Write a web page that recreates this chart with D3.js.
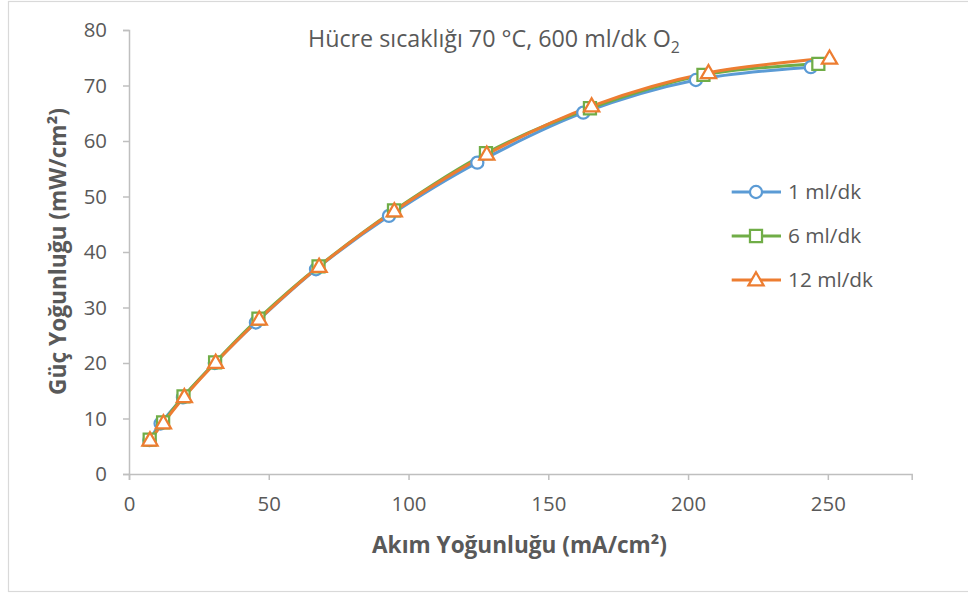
<!DOCTYPE html>
<html><head><meta charset="utf-8">
<script src="https://cdn.jsdelivr.net/npm/d3@7"></script>
<style>body{margin:0;background:#fff}svg{display:block}text{font-family:"Open Sans",sans-serif}</style>
</head><body>
<svg id="c" width="968" height="594"></svg>
<script>
const seriesNames = ["1 ml/dk", "6 ml/dk", "12 ml/dk"];
const x1 = [7.3, 11.3, 19.3, 30.7, 45.4, 66.9, 93.0, 124.6, 162.5, 202.8, 243.9];
const y1 = [6.1, 9.1, 13.8, 20.0, 27.3, 36.9, 46.5, 56.1, 65.1, 71.0, 73.3];
const x6 = [7.4, 12.2, 19.5, 30.8, 46.3, 67.8, 94.8, 127.7, 164.9, 205.5, 246.6];
const y6 = [6.2, 9.3, 14.0, 20.1, 28.0, 37.4, 47.5, 57.8, 65.9, 71.9, 73.9];
const x12 = [7.5, 12.3, 19.8, 31.0, 46.6, 68.0, 94.9, 128.0, 165.5, 207.3, 250.6];
const y12 = [6.1, 9.2, 13.9, 20.1, 27.9, 37.4, 47.4, 57.6, 66.3, 72.3, 74.9];
const xTicks = [0, 50, 100, 150, 200, 250];
const yTicks = [0, 10, 20, 30, 40, 50, 60, 70, 80];
const titleText = "Hücre sıcaklığı 70 °C, 600 ml/dk O";
const xTitle = "Akım Yoğunluğu (mA/cm²)";
const yTitle = "Güç Yoğunluğu (mW/cm²)";

const colors = ["#5B9BD5", "#70AD47", "#ED7D31"];
const shapes = [d3.symbolCircle, d3.symbolSquare, d3.symbolTriangle];
const data = [[x1, y1], [x6, y6], [x12, y12]].map((s, i) => ({
  name: seriesNames[i], pts: s[0].map((v, j) => [v, s[1][j]])
}));

const svg = d3.select("#c");
svg.append("rect").attr("x", 8.5).attr("y", 1.5).attr("width", 980).attr("height", 590)
  .attr("fill", "#fff").attr("stroke", "#d9d9d9").attr("stroke-width", 1.2);

const x = d3.scaleLinear().domain([0, 280]).range([129, 911.7]);
const y = d3.scaleLinear().domain([0, 80]).range([474, 30]);
const textCol = "#595959", axisCol = "#bfbfbf";

function measure(txt, fs, weight) {
  const tmp = svg.append("text").style("font-size", fs + "px").style("font-weight", weight || "normal").text(txt);
  const w = tmp.node().getComputedTextLength();
  tmp.remove();
  return w;
}
const tickFs = 18 * 35 / measure("250", 18);
const legFs = 18 * 85 / measure("12 ml/dk", 18);
const titleFs = 18 * 363 / measure(titleText, 18);

const gx = svg.append("g").attr("transform", "translate(0,474)")
  .call(d3.axisBottom(x).tickValues(xTicks).tickSizeOuter(0).tickSize(6).tickPadding(17));
const gy = svg.append("g").attr("transform", "translate(129,0)")
  .call(d3.axisLeft(y).tickValues(yTicks).tickSizeOuter(0).tickSize(6).tickPadding(16));
[gx, gy].forEach(g => {
  g.select(".domain").attr("stroke", axisCol).attr("stroke-width", 1.5);
  g.selectAll(".tick line").attr("stroke", axisCol).attr("stroke-width", 1.5);
  g.selectAll(".tick text").attr("fill", textCol).style("font-size", tickFs + "px").style("font-family", "'Open Sans', sans-serif");
});

const line = d3.line().x(d => x(d[0])).y(d => y(d[1])).curve(d3.curveCatmullRom.alpha(0));
data.forEach((s, i) => {
  svg.append("path").datum(s.pts).attr("d", line).attr("fill", "none")
    .attr("stroke", colors[i]).attr("stroke-width", 3).attr("stroke-linejoin", "round");
});
const sym = (i) => d3.symbol().type(shapes[i]).size(i === 0 ? 115 : (i === 1 ? 145 : 100))();
data.forEach((s, i) => {
  svg.append("g").selectAll("path").data(s.pts).join("path")
    .attr("d", sym(i)).attr("transform", d => `translate(${x(d[0])},${y(d[1]) + (i === 2 ? 1 : 0)})`)
    .attr("fill", "#fff").attr("stroke", colors[i]).attr("stroke-width", 2.25);
});

function fit(sel, target) {
  const w = sel.node().getComputedTextLength();
  const fs = parseFloat(sel.style("font-size"));
  sel.style("font-size", (fs * target / w) + "px");
}

// legend
const legY = [192, 236, 280];
data.forEach((s, i) => {
  const g = svg.append("g");
  g.append("line").attr("x1", 731.7).attr("x2", 781).attr("y1", legY[i]).attr("y2", legY[i])
    .attr("stroke", colors[i]).attr("stroke-width", 3);
  g.append("path").attr("d", sym(i)).attr("transform", `translate(756,${legY[i] + (i === 2 ? 1 : 0)})`)
    .attr("fill", "#fff").attr("stroke", colors[i]).attr("stroke-width", 2.25);
  g.append("text").attr("x", 788).attr("y", legY[i]).attr("dy", "0.36em")
    .attr("fill", textCol).style("font-size", legFs + "px").text(s.name);
});

// title
const t = svg.append("text").attr("x", 308).attr("y", 47).attr("fill", textCol).style("font-size", titleFs + "px");
t.append("tspan").text(titleText);
t.append("tspan").attr("dy", 6).style("font-size", (titleFs * 0.68) + "px").text("2");

const xt = svg.append("text").attr("x", 519.5).attr("y", 553).attr("text-anchor", "middle")
  .attr("fill", textCol).style("font-size", "19px").style("font-weight", "bold").text(xTitle);
fit(xt, 295);
const yt = svg.append("text").attr("transform", "translate(66,251.5) rotate(-90)").attr("text-anchor", "middle")
  .attr("fill", textCol).style("font-size", "19px").style("font-weight", "bold").text(yTitle);
fit(yt, 287);
</script>
</body></html>
